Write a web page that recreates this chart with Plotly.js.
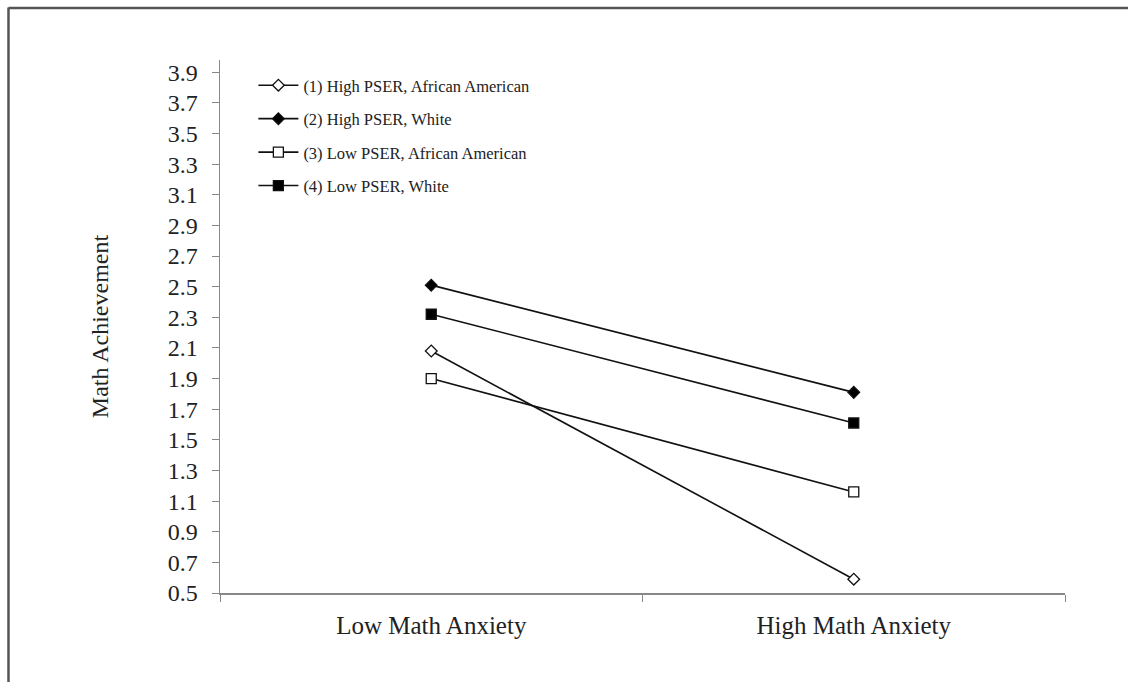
<!DOCTYPE html>
<html>
<head>
<meta charset="utf-8">
<script src="https://cdn.plot.ly/plotly-3.0.1.min.js"></script>
<style>
html,body{margin:0;padding:0;background:#fff;}
#chart{width:1128px;height:682px;}
</style>
</head>
<body>
<div id="chart"></div>
<script>
const categories = ["Low Math Anxiety", "High Math Anxiety"];
const seriesNames = [
  "(1) High PSER, African American",
  "(2) High PSER, White",
  "(3) Low PSER, African American",
  "(4) Low PSER, White"
];
const s1 = [2.08, 0.59];
const s2 = [2.51, 1.81];
const s3 = [1.90, 1.16];
const s4 = [2.32, 1.61];
const yTicks = [0.5,0.7,0.9,1.1,1.3,1.5,1.7,1.9,2.1,2.3,2.5,2.7,2.9,3.1,3.3,3.5,3.7,3.9];
const yTickLabels = ["0.5","0.7","0.9","1.1","1.3","1.5","1.7","1.9","2.1","2.3","2.5","2.7","2.9","3.1","3.3","3.5","3.7","3.9"];

const styles = [
  {symbol:"diamond", color:"#ffffff", size:9},
  {symbol:"diamond", color:"#000000", size:9},
  {symbol:"square", color:"#ffffff", size:10},
  {symbol:"square", color:"#000000", size:10}
];
const allData = [s1, s2, s3, s4];

const traces = allData.map((vals, i) => ({
  type: "scatter",
  mode: "lines+markers",
  x: categories,
  y: vals,
  name: seriesNames[i],
  legendgroup: "g" + i,
  line: {color: "#111111", width: 1.6},
  marker: {symbol: styles[i].symbol, size: styles[i].size, color: styles[i].color,
           line: {color: "#111111", width: 1.3}}
}));

const font = "Liberation Serif, Times New Roman, serif";

const layout = {
  width: 1128,
  height: 682,
  margin: {l: 220, r: 63, t: 60, b: 89},
  paper_bgcolor: "#ffffff",
  plot_bgcolor: "#ffffff",
  showlegend: true,
  font: {family: font, color: "#222222"},
  xaxis: {
    type: "category",
    range: [-0.5, 1.5],
    showgrid: false,
    zeroline: false,
    showline: true,
    linecolor: "#888888",
    linewidth: 1.5,
    ticks: "outside",
    tickson: "boundaries",
    ticklen: 7,
    tickcolor: "#888888",
    ticklabelstandoff: 9,
    tickfont: {family: font, size: 25, color: "#222222"},
    fixedrange: true
  },
  yaxis: {
    range: [0.5, 3.98],
    tickvals: yTicks,
    ticktext: yTickLabels,
    showgrid: false,
    zeroline: false,
    showline: true,
    linecolor: "#888888",
    linewidth: 1.5,
    ticks: "outside",
    ticklen: 7,
    tickcolor: "#888888",
    ticklabelstandoff: 9,
    tickfont: {family: font, size: 24, color: "#222222"},
    title: {text: "Math Achievement", font: {family: font, size: 24, color: "#222222"}, standoff: 52},
    fixedrange: true
  },
  legend: {
    x: 0.0395,
    y: 0.985,
    xanchor: "left",
    yanchor: "top",
    bgcolor: "rgba(0,0,0,0)",
    font: {family: font, size: 16.5, color: "#222222"},
    itemwidth: 40,
    tracegroupgap: 9
  },
  shapes: [
    {type: "line", xref: "paper", yref: "paper", x0: -0.2503, x1: -0.2503, y0: -0.2, y1: 1.0985,
     line: {color: "#555555", width: 2.5}},
    {type: "line", xref: "paper", yref: "paper", x0: -0.2503, x1: 1.1, y0: 1.0976, y1: 1.0976,
     line: {color: "#555555", width: 2.5}}
  ]
};

Plotly.newPlot("chart", traces, layout, {displayModeBar: false, staticPlot: true});
</script>
</body>
</html>
